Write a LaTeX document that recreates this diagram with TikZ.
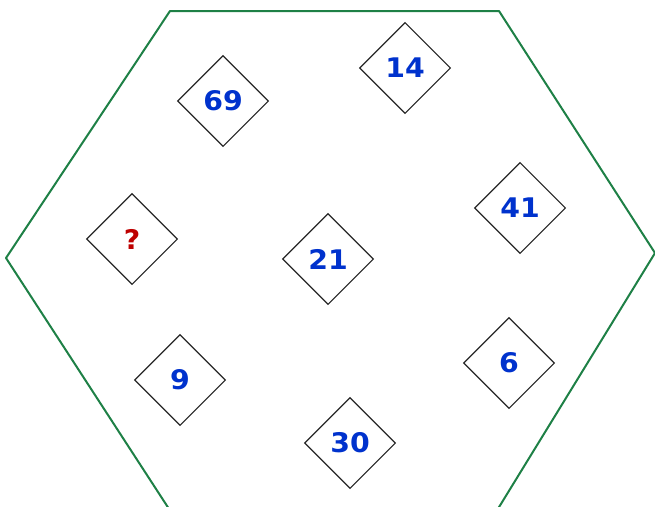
\documentclass[tikz,border=0pt]{standalone}
\usepackage{fontspec}
\setmainfont{DejaVu Sans}[FakeStretch=1.05]
\usepackage{xcolor}
\usepackage{tikz}
\usetikzlibrary{shapes.geometric}

\definecolor{hexgreen}{RGB}{30,128,70}
\definecolor{numblue}{RGB}{0,50,205}
\definecolor{qred}{RGB}{190,0,0}

\begin{document}
\begin{tikzpicture}[x=1pt,y=-1pt,every node/.style={font=\fontsize{27}{32}\selectfont\bfseries},
          cell/.style={diamond,draw=black!85,line width=1.1pt,inner sep=0pt,aspect=1,minimum width=91pt,minimum height=91pt,text=numblue},
          ask/.style={cell,text=qred}]
        \clip (0,0) rectangle (655,506);
        \draw[hexgreen,line width=2pt,line join=round] (170,11) -- (499,11) -- (655,253) -- (496,512) -- (171,512) -- (6,258) -- cycle;
        \node[cell] (c69) at (223,101) {69};
        \node[cell] (c14) at (405,68) {14};
        \node[cell] (c41) at (520,208) {41};
        \node[ask]  (cq)  at (132,239) {?};
        \node[cell] (c21) at (328,259) {21};
        \node[cell] (c9)  at (180,380) {9};
        \node[cell] (c6)  at (509,363) {6};
        \node[cell] (c30) at (350,443) {30};
      \end{tikzpicture}
\end{document}
